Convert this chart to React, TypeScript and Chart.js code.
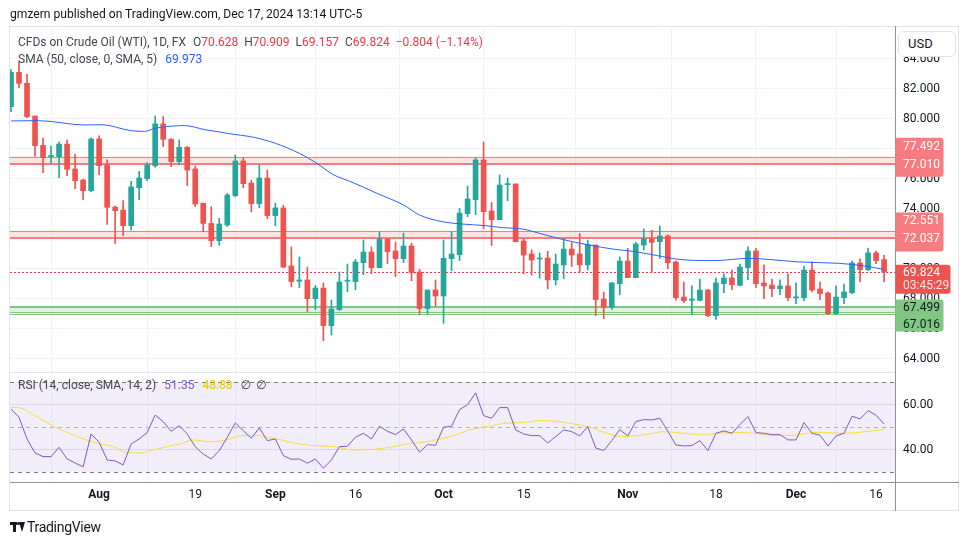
import React, { useEffect, useRef } from "react";
import { Chart, registerables } from "chart.js";

Chart.register(...registerables);

const FONT = "Roboto, 'Noto Sans', 'DejaVu Sans', sans-serif";

// ---- categories (trading days) ----
const MONTH_NAMES = ["Jul", "Aug", "Sep", "Oct", "Nov", "Dec"];
const JUL_DAYS = [17, 18, 19, 22, 23, 24, 25, 26, 29, 30, 31];
const AUG_DAYS = [1, 2, 5, 6, 7, 8, 9, 12, 13, 14, 15, 16, 19, 20, 21, 22, 23, 26, 27, 28, 29, 30];
const SEP_DAYS = [2, 3, 4, 5, 6, 9, 10, 11, 12, 13, 16, 17, 18, 19, 20, 23, 24, 25, 26, 27, 30];
const OCT_DAYS = [1, 2, 3, 4, 7, 8, 9, 10, 11, 14, 15, 16, 17, 18, 21, 22, 23, 24, 25, 28, 29, 30, 31];
const NOV_DAYS = [1, 4, 5, 6, 7, 8, 11, 12, 13, 14, 15, 18, 19, 20, 21, 22, 25, 26, 27, 28, 29];
const DEC_DAYS = [2, 3, 4, 5, 6, 9, 10, 11, 12, 13, 16, 17];
const DATES: string[] = [];
[JUL_DAYS, AUG_DAYS, SEP_DAYS, OCT_DAYS, NOV_DAYS, DEC_DAYS].forEach((days, m) =>
  days.forEach((d) => DATES.push(`${MONTH_NAMES[m]} ${d}`))
);

const TICK_DATES = ["Aug 1", "Aug 19", "Sep 2", "Sep 16", "Oct 1", "Oct 15", "Nov 1", "Nov 18", "Dec 2", "Dec 16"];
const TICK_LABELS = ["Aug", "19", "Sep", "16", "Oct", "15", "Nov", "18", "Dec", "16"];
const PRICE_TICKS = [64, 66, 68, 70, 72, 74, 76, 78, 80, 82, 84];
const RSI_TICKS = [40, 60];

// ---- OHLC ----
const OPEN = [
  80.82, 83.11, 82.38, 80.2, 78.24, 77.5, 77.49, 78.33, 76.67, 75.93, 75.22,
  78.67, 76.93, 74.13, 73.93, 72.89, 75.42, 76.02, 76.89, 79.67, 78.64, 77.16, 78.11, 76.67, 74.38, 73.04, 71.89, 72.93, 74.89, 77.2, 75.73, 74.36, 76.07,
  73.56, 74.07, 70.2, 69.18, 69.27, 68.02, 68.73, 66.22, 67.29, 69.2, 69.16, 70.42, 71.13, 70.09, 72.0, 71.2, 70.69, 71.53, 69.8, 67.36, 68.6,
  68.2, 70.69, 70.96, 73.69, 74.62, 77.27, 73.87, 73.29, 75.62, 75.67, 71.87, 71.0, 70.67, 70.73, 69.27, 70.27, 71.33, 71.0, 70.27, 71.6, 68.0, 67.44, 69.02,
  70.53, 69.42, 71.6, 72.0, 71.82, 72.2, 70.47, 68.13, 67.91, 67.91, 68.6, 66.89, 69.02, 69.4, 68.91, 70.09, 71.2, 69.07, 68.93, 68.69, 68.87,
  68.09, 68.09, 69.93, 68.67, 68.4, 67.02, 68.09, 68.42, 70.4, 69.96, 71.07, 70.628,
];
const HIGH = [
  83.3, 83.82, 82.98, 80.2, 78.73, 78.2, 78.47, 78.6, 77.64, 76.0, 78.75,
  78.87, 77.27, 74.2, 74.56, 75.84, 76.51, 77.09, 80.2, 80.16, 78.7, 78.6, 78.16, 76.87, 74.4, 74.16, 73.38, 75.04, 77.6, 77.44, 75.93, 76.93, 76.6,
  74.4, 74.24, 71.47, 70.8, 70.13, 68.91, 69.07, 67.93, 69.8, 70.33, 70.64, 71.93, 71.47, 72.47, 72.0, 71.8, 72.4, 71.71, 69.98, 68.6, 69.27,
  71.93, 72.49, 74.04, 75.53, 77.42, 78.47, 74.44, 76.27, 76.07, 75.67, 72.04, 71.27, 71.07, 71.18, 71.0, 72.04, 71.76, 72.36, 71.93, 71.6, 68.47, 69.11, 70.8,
  71.38, 71.78, 72.67, 72.58, 72.87, 72.27, 70.53, 69.13, 68.87, 69.33, 68.64, 69.4, 69.67, 69.93, 70.33, 71.47, 71.38, 70.27, 69.33, 69.27, 69.67,
  69.07, 70.2, 70.47, 69.13, 68.47, 68.87, 69.0, 70.53, 70.67, 71.4, 71.2, 70.909,
];
const LOW = [
  80.49, 82.09, 80.09, 77.53, 76.42, 77.04, 76.09, 76.22, 75.36, 74.62, 75.15,
  76.29, 72.98, 71.71, 72.22, 72.6, 74.62, 75.89, 76.78, 78.16, 76.82, 76.93, 75.56, 74.16, 72.49, 71.49, 71.58, 72.82, 74.8, 75.42, 73.8, 74.09, 73.36,
  72.89, 70.09, 68.82, 68.76, 67.16, 67.29, 65.22, 65.6, 67.24, 68.49, 68.62, 69.62, 69.69, 70.09, 70.36, 69.49, 70.42, 69.22, 66.98, 67.02, 67.53,
  66.38, 69.89, 70.56, 73.49, 73.62, 72.69, 71.56, 73.29, 74.56, 71.8, 69.67, 69.6, 69.38, 68.67, 68.93, 69.36, 70.16, 69.76, 69.93, 66.89, 66.69, 67.31, 68.29,
  69.42, 69.42, 71.27, 69.76, 70.71, 70.02, 67.93, 67.76, 66.98, 67.87, 66.82, 66.64, 68.42, 68.62, 68.87, 69.29, 68.76, 68.02, 68.16, 68.29, 67.89,
  67.69, 67.89, 68.47, 67.96, 66.96, 66.98, 67.69, 68.36, 69.16, 69.89, 70.36, 69.157,
];
const CLOSE = [
  83.11, 82.38, 80.16, 78.22, 77.42, 77.55, 78.33, 76.64, 75.89, 75.22, 78.67,
  76.89, 74.11, 73.89, 72.89, 75.47, 76.07, 76.93, 79.67, 78.64, 77.16, 78.11, 76.6, 74.33, 73.04, 71.89, 73.0, 74.93, 77.2, 75.69, 74.36, 76.07, 73.56,
  74.07, 70.13, 69.16, 69.27, 68.02, 68.73, 66.22, 67.33, 69.13, 69.24, 70.47, 71.13, 70.09, 72.0, 71.16, 70.69, 71.53, 69.76, 67.36, 68.6, 68.2,
  70.71, 71.0, 73.73, 74.67, 77.27, 73.82, 73.29, 75.6, 75.69, 71.82, 70.93, 70.6, 70.73, 69.27, 70.33, 71.33, 70.93, 70.27, 71.64, 67.96, 67.44, 69.07, 70.53,
  69.42, 71.67, 72.0, 71.78, 72.2, 70.42, 68.09, 67.89, 68.0, 68.6, 66.89, 69.07, 69.4, 68.96, 70.13, 71.2, 69.02, 68.87, 68.69, 68.87, 68.09,
  68.13, 69.93, 68.6, 68.36, 67.02, 68.13, 68.47, 70.4, 69.96, 71.07, 70.56, 69.824,
];

// ---- SMA(50) (x = day index) ----
const SMA_X = [0, 3.4, 9.25, 11.3, 15, 16.7, 18, 21.7, 24.2, 26.1, 27, 30.3, 33, 36, 38.2, 40.2, 42.7, 45.7, 49, 51, 53.8, 56.3, 59.2, 61.3, 63.8, 66.3, 68.8, 72.1, 75.4, 77.9, 80.7, 83.4, 87.9, 92.1, 94.6, 98.3, 103.3, 106.6, 109];
const SMA_Y = [79.87, 79.89, 79.6, 79.62, 79.22, 79.18, 79.38, 79.56, 79.29, 79.13, 79.04, 78.78, 78.38, 77.71, 77.04, 76.3, 75.76, 75.04, 74.27, 73.6, 73.16, 73.0, 72.89, 72.76, 72.67, 72.33, 71.98, 71.6, 71.31, 71.16, 70.89, 70.64, 70.56, 70.71, 70.64, 70.47, 70.38, 70.2, 69.973];

// ---- RSI(14) ----
const RSI = [
  58.07, 54.37, 44.74, 38.52, 36.89, 36.89, 41.04, 35.85, 34.07, 32.3, 46.96,
  43.26, 35.41, 34.96, 33.19, 42.52, 44.74, 47.56, 55.41, 52.44, 48.15, 50.67, 46.96, 41.26, 38.0, 35.85, 39.56, 45.48, 51.85, 48.44, 45.04, 49.63, 44.0,
  44.74, 37.33, 35.7, 35.85, 33.93, 35.85, 31.7, 35.41, 41.33, 41.48, 45.48, 47.26, 44.74, 50.37, 48.15, 46.67, 49.19, 44.3, 38.81, 42.22, 41.93,
  49.93, 50.37, 57.78, 60.0, 65.19, 55.11, 53.93, 58.67, 58.67, 48.74, 46.96, 46.22, 46.22, 42.96, 45.78, 48.74, 48.0, 46.07, 50.22, 40.74, 39.56, 44.0, 48.89,
  46.07, 52.44, 53.33, 53.19, 53.93, 48.15, 42.07, 41.63, 41.78, 44.0, 39.56, 47.26, 48.3, 47.26, 51.11, 54.67, 47.56, 47.26, 46.67, 46.67, 44.3,
  44.3, 52.0, 47.26, 46.37, 41.63, 46.07, 47.26, 54.81, 53.63, 57.33, 55.26, 51.35,
];
const RSI_MA_X = [0, 1.125, 2.8, 5.3, 6.96, 9.04, 11.125, 12.79, 14.46, 16.125, 17.79, 19.46, 21.125, 22.79, 24.875, 26.96, 28.625, 30.29, 31.96, 33.625, 35.29, 37.79, 40.29, 42.79, 45.29, 47.79, 49.46, 51.96, 54.46, 55.22, 57.72, 59.59, 61.63, 63.96, 66.04, 68.13, 70.2, 72.29, 74.37, 76.03, 77.7, 79.78, 81.44, 83.52, 86.85, 88.1, 91.0, 92.67, 95.17, 97.67, 99.34, 101.0, 103.5, 106.0, 107.65, 109];
const RSI_MA_Y = [58.81, 58.52, 55.56, 50.37, 47.7, 44.74, 42.52, 41.33, 38.67, 38.52, 39.85, 41.33, 42.52, 44.3, 43.41, 44.3, 46.07, 46.37, 45.48, 44.44, 42.96, 41.78, 41.33, 39.85, 40.15, 41.33, 42.52, 43.56, 45.48, 46.22, 49.19, 50.37, 51.7, 52.0, 52.89, 52.59, 51.41, 49.93, 47.26, 45.93, 46.07, 46.96, 48.0, 47.41, 46.52, 47.26, 47.56, 47.26, 46.37, 46.37, 47.26, 47.7, 47.26, 47.7, 48.44, 48.88];

// ---- levels ----
const RESIST_UPPER = [77.492, 72.551];
const RESIST_LOWER = [77.01, 72.037];
const SUPPORT_LEVELS = [67.499, 67.1, 67.016];
const LAST_PRICE = 69.824;
const COUNTDOWN = "03:45:29";

const GREEN = "#26a69a";
const RED = "#ef5350";

function hline(ctx: CanvasRenderingContext2D, y: number, x0: number, x1: number, color: string, width: number, dash: number[] = []) {
  ctx.save();
  ctx.beginPath();
  ctx.strokeStyle = color;
  ctx.lineWidth = width;
  ctx.setLineDash(dash);
  const yy = width % 2 === 1 ? Math.round(y) + 0.5 : Math.round(y);
  ctx.moveTo(x0, yy);
  ctx.lineTo(x1, yy);
  ctx.stroke();
  ctx.restore();
}

function box(ctx: CanvasRenderingContext2D, x: number, y0: number, w: number, h: number, color: string) {
  ctx.save();
  ctx.fillStyle = color;
  ctx.beginPath();
  const r = 3;
  ctx.moveTo(x, y0);
  ctx.lineTo(x + w - r, y0);
  ctx.quadraticCurveTo(x + w, y0, x + w, y0 + r);
  ctx.lineTo(x + w, y0 + h - r);
  ctx.quadraticCurveTo(x + w, y0 + h, x + w - r, y0 + h);
  ctx.lineTo(x, y0 + h);
  ctx.closePath();
  ctx.fill();
  ctx.restore();
}

function label(ctx: CanvasRenderingContext2D, x: number, y: number, text: string, color: string) {
  ctx.save();
  ctx.font = `12px ${FONT}`;
  ctx.fillStyle = color;
  ctx.textBaseline = "middle";
  ctx.textAlign = "left";
  ctx.fillText(text, x, y);
  ctx.restore();
}

const overlayPlugin = {
  id: "overlay",
  beforeDatasetsDraw(chart: any) {
    const { ctx, chartArea: ca, scales } = chart;
    const y = scales.y;
    const yr = scales.yr;
    const L = ca.left;
    const R = ca.right;
    // RSI band
    const p70 = yr.getPixelForValue(70);
    const p30 = yr.getPixelForValue(30);
    ctx.save();
    ctx.fillStyle = "rgba(126,87,194,0.1)";
    ctx.fillRect(L, p70, R - L, p30 - p70);
    ctx.restore();
    hline(ctx, p70, L, R, "#787b86", 1, [4, 4]);
    hline(ctx, p30, L, R, "#787b86", 1, [4, 4]);
    hline(ctx, yr.getPixelForValue(50), L, R, "rgba(120,123,134,0.55)", 1, [4, 4]);

    // resistance zones
    for (let i = 0; i < RESIST_UPPER.length; i++) {
      const pu = y.getPixelForValue(RESIST_UPPER[i]);
      const pl = y.getPixelForValue(RESIST_LOWER[i]);
      ctx.save();
      ctx.fillStyle = "rgba(247,124,128,0.2)";
      ctx.fillRect(L, pu, R - L, pl - pu);
      ctx.restore();
      hline(ctx, pu, L, R, "#f77c80", 1);
      hline(ctx, pl, L, R, "#f77c80", 2);
    }
    // support zone
    const s0 = y.getPixelForValue(SUPPORT_LEVELS[0]);
    const s1 = y.getPixelForValue(SUPPORT_LEVELS[1]);
    const s2 = y.getPixelForValue(SUPPORT_LEVELS[2]);
    ctx.save();
    ctx.fillStyle = "rgba(129,199,132,0.25)";
    ctx.fillRect(L, s0, R - L, s1 - s0);
    ctx.restore();
    hline(ctx, s0, L, R, "#81c784", 2);
    hline(ctx, s1, L, R, "#81c784", 1);
    hline(ctx, s2, L, R, "#81c784", 1);

    // last price dotted line
    hline(ctx, y.getPixelForValue(LAST_PRICE), L, R, "#f23645", 1, [2, 2]);
  },
  afterDraw(chart: any) {
    const { ctx, chartArea: ca, scales } = chart;
    const y = scales.y;
    const yr = scales.yr;
    const L = ca.left;
    const R = ca.right;
    // pane separator
    hline(ctx, yr.top, L, R, "#e0e3eb", 1);
    // axis borders
    ctx.save();
    ctx.strokeStyle = "#8f929b";
    ctx.lineWidth = 1;
    ctx.beginPath();
    ctx.moveTo(Math.round(R) + 0.5, 26);
    ctx.lineTo(Math.round(R) + 0.5, 511);
    ctx.moveTo(L, Math.round(ca.bottom) + 0.5);
    ctx.lineTo(959, Math.round(ca.bottom) + 0.5);
    ctx.stroke();
    ctx.restore();

    const bx = R + 0.5;
    const tx = R + 8;
    // resistance labels
    for (let i = 0; i < RESIST_UPPER.length; i++) {
      const pl = y.getPixelForValue(RESIST_LOWER[i]);
      box(ctx, bx, pl - 26, 48, 39, "#f77c80");
      label(ctx, tx, pl - 17, RESIST_UPPER[i].toFixed(3), "#ffffff");
      label(ctx, tx, pl + 1, RESIST_LOWER[i].toFixed(3), "#ffffff");
    }
    // last price label
    const pp = y.getPixelForValue(LAST_PRICE);
    box(ctx, bx, pp - 7, 55, 29, "#ef5350");
    label(ctx, tx, pp + 1, LAST_PRICE.toFixed(3), "#ffffff");
    label(ctx, tx, pp + 14, COUNTDOWN, "rgba(255,255,255,0.85)");
    // support labels
    const pu = y.getPixelForValue(SUPPORT_LEVELS[0]);
    box(ctx, bx, pu - 7, 48, 32, "#81c784");
    label(ctx, tx, pu + 1, SUPPORT_LEVELS[0].toFixed(3), "#131722");
    label(ctx, tx, pu + 18, SUPPORT_LEVELS[2].toFixed(3), "#131722");
  },
};

export default function App() {
  const ref = useRef<HTMLCanvasElement>(null);

  useEffect(() => {
    const canvas = ref.current;
    if (!canvas) return;
    const colors = CLOSE.map((c, i) => (c >= OPEN[i] ? GREEN : RED));
    const wicks = DATES.map((_, i) => ({ x: i, y: [LOW[i], HIGH[i]] }));
    const bodies = DATES.map((_, i) => {
      let a = Math.min(OPEN[i], CLOSE[i]);
      let b = Math.max(OPEN[i], CLOSE[i]);
      if (b - a < 0.07) {
        const m = (a + b) / 2;
        a = m - 0.035;
        b = m + 0.035;
      }
      return { x: i, y: [a, b] };
    });

    const chart = new Chart(canvas, {
      type: "bar",
      data: {
        datasets: [
          { type: "bar", label: "wick", data: wicks as any, backgroundColor: colors, barThickness: 1, grouped: false, borderWidth: 0, xAxisID: "x", yAxisID: "y", order: 3 } as any,
          { type: "bar", label: "body", data: bodies as any, backgroundColor: colors, barThickness: 5, grouped: false, borderWidth: 0, xAxisID: "x", yAxisID: "y", order: 2 } as any,
          { type: "line", label: "SMA", data: SMA_X.map((x, i) => ({ x, y: SMA_Y[i] })), borderColor: "#2962ff", borderWidth: 1, pointRadius: 0, cubicInterpolationMode: "monotone", xAxisID: "x", yAxisID: "y", order: 1 } as any,
          { type: "line", label: "RSI MA", data: RSI_MA_X.map((x, i) => ({ x, y: RSI_MA_Y[i] })), borderColor: "#f6dc3a", borderWidth: 1, pointRadius: 0, cubicInterpolationMode: "monotone", xAxisID: "x", yAxisID: "yr", order: 1 } as any,
          { type: "line", label: "RSI", data: RSI.map((v, i) => ({ x: i, y: v })), borderColor: "#7e57c2", borderWidth: 1, pointRadius: 0, tension: 0, xAxisID: "x", yAxisID: "yr", order: 0 } as any,
        ],
      },
      options: {
        responsive: false,
        animation: false,
        devicePixelRatio: 1,
        layout: { padding: { left: 10, top: 26, right: 0, bottom: 0 } },
        plugins: { legend: { display: false }, tooltip: { enabled: false } },
        scales: {
          x: {
            type: "linear",
            min: -0.125,
            max: 110.36,
            offset: false,
            grid: { color: "#f0f3fa", drawTicks: false },
            border: { display: false },
            afterBuildTicks: (s: any) => {
              s.ticks = TICK_DATES.map((d) => ({ value: DATES.indexOf(d) }));
            },
            afterFit: (s: any) => {
              s.height = 63;
            },
            ticks: {
              autoSkip: false,
              maxRotation: 0,
              padding: 6,
              color: "#131722",
              callback: (_v: any, i: number) => TICK_LABELS[i],
              font: (c: any) => ({
                family: FONT,
                size: 12,
                weight: MONTH_NAMES.includes(TICK_LABELS[c.index]) ? "bold" : "normal",
              }),
            },
          } as any,
          y: {
            type: "linear",
            position: "right",
            stack: "panes",
            stackWeight: 346,
            min: 63.133,
            max: 86.2,
            grid: { color: "#f0f3fa", drawTicks: false },
            border: { display: false },
            afterBuildTicks: (s: any) => {
              s.ticks = PRICE_TICKS.map((v) => ({ value: v }));
            },
            afterFit: (s: any) => {
              s.width = 75;
            },
            ticks: {
              padding: 8,
              color: "#131722",
              font: { family: FONT, size: 12 },
              callback: (v: any) => Number(v).toFixed(3),
            },
          } as any,
          yr: {
            type: "linear",
            position: "right",
            stack: "panes",
            stackWeight: 110,
            min: 25.6,
            max: 74.5,
            grid: { color: "#e6e1f3", drawTicks: false },
            border: { display: false },
            afterBuildTicks: (s: any) => {
              s.ticks = RSI_TICKS.map((v) => ({ value: v }));
            },
            afterFit: (s: any) => {
              s.width = 75;
            },
            ticks: {
              padding: 8,
              color: "#131722",
              font: { family: FONT, size: 12 },
              callback: (v: any) => Number(v).toFixed(2),
            },
          } as any,
        },
      },
      plugins: [overlayPlugin as any],
    });
    return () => chart.destroy();
  }, []);

  const gray = "#434651";
  const red = "#f23645";
  return (
    <div style={{ position: "fixed", left: 0, top: 0, width: 970, height: 545, background: "#ffffff", fontFamily: FONT, overflow: "hidden" }}>
      <div style={{ position: "absolute", left: 9, top: 26, width: 950, height: 485, border: "1px solid #e0e3eb", boxSizing: "border-box" }} />
      <canvas ref={ref} width={970} height={545} style={{ position: "absolute", left: 0, top: 0, width: 970, height: 545 }} />
      <div style={{ position: "absolute", left: 10, top: 6, fontSize: 12.1, color: "#131722", whiteSpace: "nowrap", lineHeight: "16px" }}>
        gmzern published on TradingView.com, Dec 17, 2024 13:14 UTC-5
      </div>
      <div style={{ position: "absolute", left: 18, top: 34, fontSize: 12, color: gray, whiteSpace: "nowrap", lineHeight: "16px" }}>
        <span>CFDs on Crude Oil (WTI), 1D, FX</span>
        <span style={{ marginLeft: 7 }}>O</span><span style={{ color: red }}>70.628</span>
        <span style={{ marginLeft: 6 }}>H</span><span style={{ color: red }}>70.909</span>
        <span style={{ marginLeft: 6 }}>L</span><span style={{ color: red }}>69.157</span>
        <span style={{ marginLeft: 6 }}>C</span><span style={{ color: red }}>69.824</span>
        <span style={{ marginLeft: 6, color: red }}>−0.804 (−1.14%)</span>
      </div>
      <div style={{ position: "absolute", left: 18, top: 51, fontSize: 12, color: gray, whiteSpace: "nowrap", lineHeight: "16px" }}>
        <span>SMA (50, close, 0, SMA, 5)</span>
        <span style={{ marginLeft: 8, color: "#2962ff" }}>69.973</span>
      </div>
      <div style={{ position: "absolute", left: 18, top: 378, fontSize: 12, color: gray, whiteSpace: "nowrap", lineHeight: "15px" }}>
        <span>RSI (14, close, SMA, 14, 2)</span>
        <span style={{ marginLeft: 8, color: "#7e57c2" }}>51.35</span>
        <span style={{ marginLeft: 8, color: "#e8c800" }}>48.88</span>
        <span style={{ marginLeft: 8 }}>∅</span>
        <span style={{ marginLeft: 5 }}>∅</span>
      </div>
      <div style={{ position: "absolute", left: 898, top: 31, width: 58, height: 26, border: "1px solid #e0e3eb", borderRadius: 6, background: "#ffffff", boxSizing: "border-box", fontSize: 13, color: "#131722", lineHeight: "24px", paddingLeft: 9 }}>
        USD
      </div>
      <div style={{ position: "absolute", left: 10, top: 521, width: 16, height: 12 }}>
        <div style={{ position: "absolute", left: 0, top: 1, width: 7, height: 3, background: "#131722" }} />
        <div style={{ position: "absolute", left: 3, top: 1, width: 3, height: 10, background: "#131722" }} />
        <div style={{ position: "absolute", left: 7, top: 1, width: 3, height: 3, borderRadius: 2, background: "#131722" }} />
        <div style={{ position: "absolute", left: 9, top: 1, width: 0, height: 0, borderLeft: "3px solid transparent", borderRight: "3px solid transparent", borderTop: "10px solid #131722" }} />
      </div>
      <div style={{ position: "absolute", left: 27, top: 519, fontSize: 14, color: "#131722", whiteSpace: "nowrap", lineHeight: "16px", letterSpacing: -0.3 }}>
        TradingView
      </div>
    </div>
  );
}
